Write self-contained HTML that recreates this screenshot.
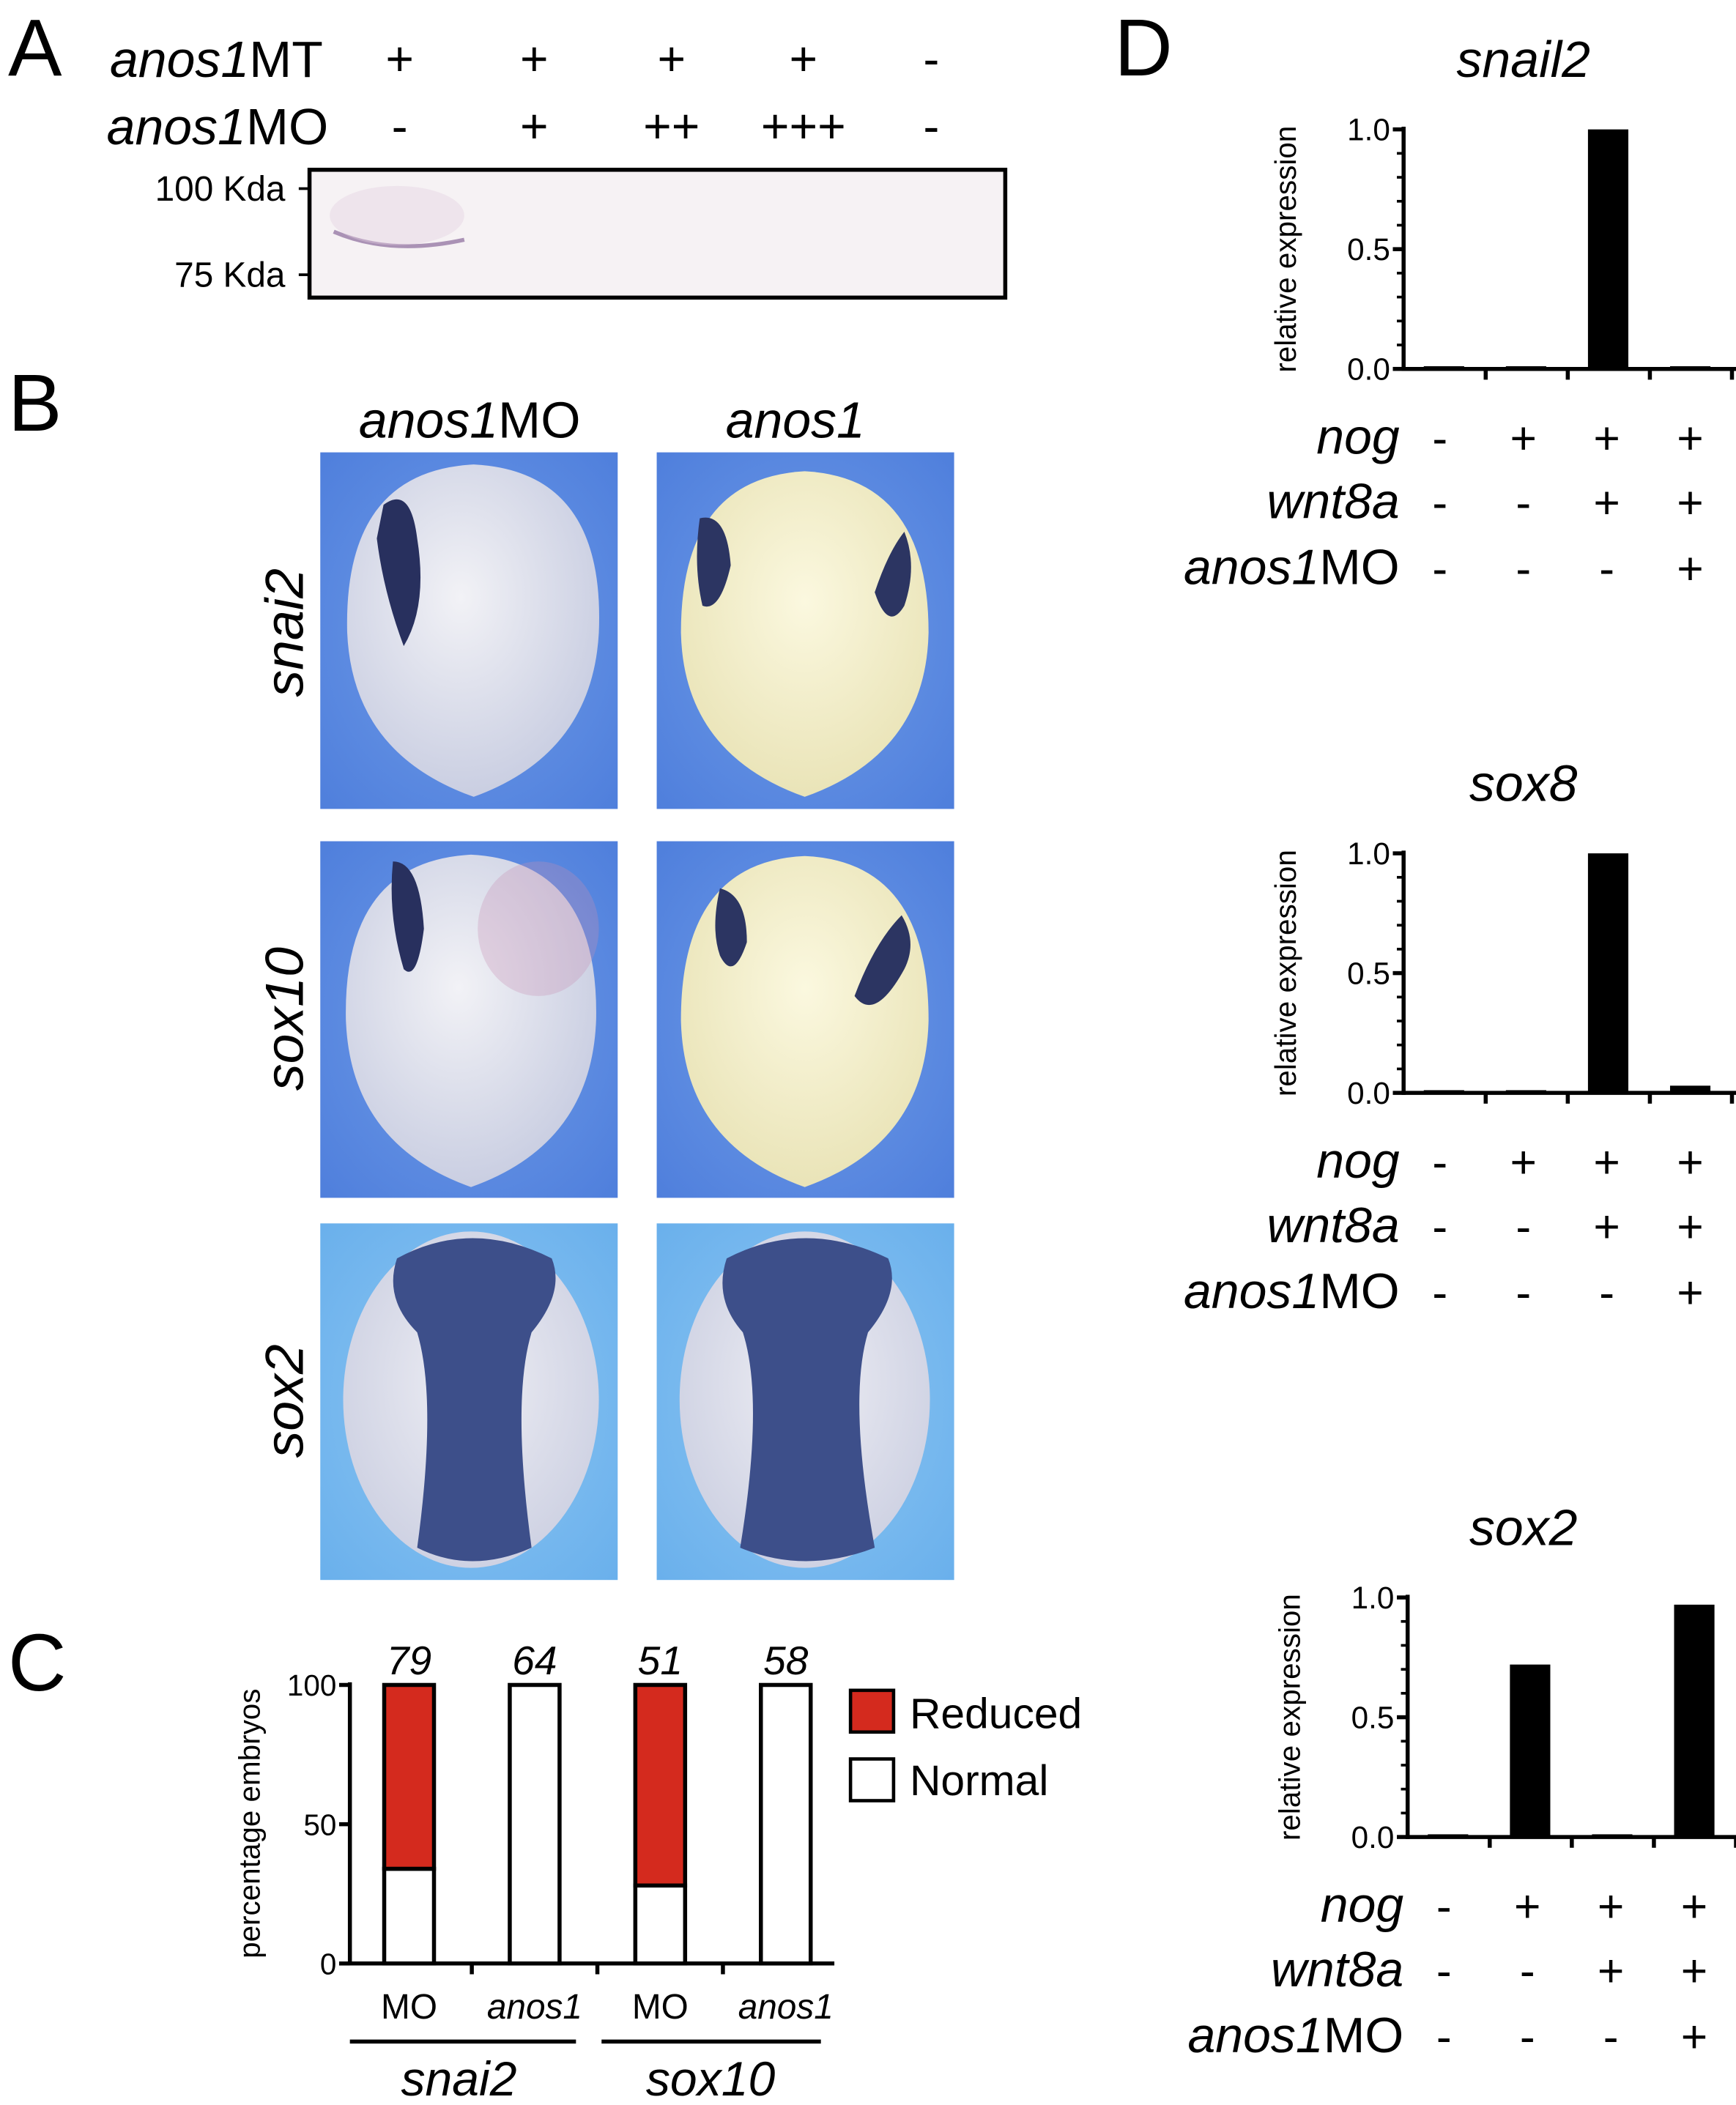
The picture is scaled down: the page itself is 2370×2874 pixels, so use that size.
<!DOCTYPE html>
<html><head><meta charset="utf-8">
<style>
html,body{margin:0;padding:0;background:#fff;}
svg{display:block;font-family:"Liberation Sans",sans-serif;}
</style></head>
<body>
<svg id="fig" width="2370" height="2874" viewBox="0 0 1290 1564" xmlns="http://www.w3.org/2000/svg">
<defs>
<radialGradient id="bgBlue" cx="50%" cy="50%" r="70%"><stop offset="0" stop-color="#6f9be8"/><stop offset="1" stop-color="#4f7fdc"/></radialGradient>
<radialGradient id="bgBlue2" cx="50%" cy="50%" r="70%"><stop offset="0" stop-color="#8cc6f2"/><stop offset="1" stop-color="#6ab0ec"/></radialGradient>
<radialGradient id="embW" cx="45%" cy="40%" r="65%"><stop offset="0" stop-color="#f2f2f6"/><stop offset="1" stop-color="#c6cbe0"/></radialGradient>
<radialGradient id="embY" cx="50%" cy="40%" r="65%"><stop offset="0" stop-color="#fbf8df"/><stop offset="1" stop-color="#e8e2b4"/></radialGradient>
<radialGradient id="embS" cx="50%" cy="45%" r="65%"><stop offset="0" stop-color="#eeeef4"/><stop offset="1" stop-color="#c9cde0"/></radialGradient>
</defs>

<!-- Panel A -->
<g>
<text x="6" y="56" font-size="60">A</text>
<text x="240" y="57" font-size="38" text-anchor="end"><tspan font-style="italic">anos1</tspan>MT</text>
<text x="244" y="107" font-size="38" text-anchor="end"><tspan font-style="italic">anos1</tspan>MO</text>
<g font-size="36" text-anchor="middle">
<text x="297" y="56">+</text><text x="397" y="56">+</text><text x="499" y="56">+</text><text x="597" y="56">+</text><text x="692" y="56">-</text>
<text x="297" y="106">-</text><text x="397" y="106">+</text><text x="499" y="106">++</text><text x="597" y="106">+++</text><text x="692" y="106">-</text>
</g>
<rect x="230" y="126" width="517" height="95" fill="#f6f2f4" stroke="#000" stroke-width="3"/>
<path d="M248 172 Q290 190 345 178" stroke="#8a6a9a" stroke-width="3" fill="none" opacity="0.7"/>
<ellipse cx="295" cy="160" rx="50" ry="22" fill="#e3cfe0" opacity="0.4"/>
<line x1="222" y1="140" x2="230" y2="140" stroke="#000" stroke-width="2"/>
<line x1="222" y1="204" x2="230" y2="204" stroke="#000" stroke-width="2"/>
<text x="212" y="149" font-size="26" text-anchor="end">100 Kda</text>
<text x="212" y="213" font-size="26" text-anchor="end">75 Kda</text>
</g>

<!-- Panel B -->
<g>
<text x="6" y="320" font-size="60">B</text>
<text x="349" y="325" font-size="38" text-anchor="middle"><tspan font-style="italic">anos1</tspan>MO</text>
<text x="591" y="325" font-size="38" text-anchor="middle" font-style="italic">anos1</text>
<text transform="translate(225,470) rotate(-90)" font-size="40" font-style="italic" text-anchor="middle">snai2</text>
<text transform="translate(225,757) rotate(-90)" font-size="40" font-style="italic" text-anchor="middle">sox10</text>
<text transform="translate(225,1041) rotate(-90)" font-size="40" font-style="italic" text-anchor="middle">sox2</text>

<g>
<rect x="238" y="336" width="221" height="265" fill="url(#bgBlue)"/>
<path d="M352 345 Q450 350 445 470 Q440 560 352 592 Q262 560 258 470 Q255 350 352 345Z" fill="url(#embW)"/>
<path d="M285 375 Q305 360 310 400 Q318 450 300 480 Q285 440 280 400Z" fill="#28305e"/>
</g>
<g>
<rect x="488" y="336" width="221" height="265" fill="url(#bgBlue)"/>
<path d="M598 350 Q690 355 690 470 Q688 560 598 592 Q508 560 506 470 Q506 355 598 350Z" fill="url(#embY)"/>
<path d="M520 385 Q540 380 543 420 Q535 455 522 450 Q515 420 520 385Z" fill="#2c3562"/>
<path d="M672 395 Q660 410 650 440 Q660 470 672 450 Q682 420 672 395Z" fill="#2c3562"/>
</g>
<g>
<rect x="238" y="625" width="221" height="265" fill="url(#bgBlue)"/>
<path d="M350 635 Q445 640 443 757 Q440 850 350 882 Q260 850 257 757 Q255 640 350 635Z" fill="url(#embW)"/>
<path d="M292 640 Q312 640 315 690 Q310 730 300 720 Q288 680 292 640Z" fill="#28305e"/>
<ellipse cx="400" cy="690" rx="45" ry="50" fill="#c890b4" opacity="0.3"/>
</g>
<g>
<rect x="488" y="625" width="221" height="265" fill="url(#bgBlue)"/>
<path d="M598 636 Q690 640 690 758 Q688 850 598 882 Q508 850 506 758 Q506 640 598 636Z" fill="url(#embY)"/>
<path d="M535 660 Q555 665 555 700 Q545 730 535 710 Q528 690 535 660Z" fill="#2c3562"/>
<path d="M670 680 Q650 700 635 740 Q650 760 672 720 Q682 700 670 680Z" fill="#2c3562"/>
</g>
<g>
<rect x="238" y="909" width="221" height="265" fill="url(#bgBlue2)"/>
<ellipse cx="350" cy="1040" rx="95" ry="125" fill="url(#embS)"/>
<path d="M295 935 Q350 905 410 935 Q420 960 395 990 Q380 1040 395 1150 Q350 1170 310 1150 Q325 1040 310 990 Q285 965 295 935Z" fill="#3d4f8a"/>
</g>
<g>
<rect x="488" y="909" width="221" height="265" fill="url(#bgBlue2)"/>
<ellipse cx="598" cy="1040" rx="93" ry="125" fill="url(#embS)"/>
<path d="M540 935 Q598 905 660 935 Q670 960 645 990 Q630 1040 650 1150 Q598 1170 550 1150 Q568 1040 552 990 Q530 965 540 935Z" fill="#3d4f8a"/>
</g>
</g>

<!-- Panel C -->
<g id="panelC">
<text x="6" y="1256" font-size="60">C</text>
<text transform="translate(193,1355) rotate(-90)" font-size="22" text-anchor="middle">percentage embryos</text>
<rect x="632" y="1256" width="32" height="31" fill="#d42a1e" stroke="#000" stroke-width="2.5"/>
<text x="676" y="1284" font-size="32">Reduced</text>
<rect x="632" y="1307" width="32" height="31" fill="#fff" stroke="#000" stroke-width="2.5"/>
<text x="676" y="1334" font-size="32">Normal</text>
<line x1="260" y1="1517" x2="428" y2="1517" stroke="#000" stroke-width="3"/>
<line x1="447" y1="1517" x2="610" y2="1517" stroke="#000" stroke-width="3"/>
<text x="341" y="1557" font-size="36" font-style="italic" text-anchor="middle">snai2</text>
<text x="528" y="1557" font-size="36" font-style="italic" text-anchor="middle">sox10</text>
</g>

<!-- Panel D -->
<g id="panelD">
<text x="828" y="56" font-size="60">D</text>
</g>
</svg>

<script>
const NS='http://www.w3.org/2000/svg';
// Panel C data
const cCategories=['MO','anos1','MO','anos1'];
const cNormal=[34,100,28,100];
const cReduced=[66,0,72,0];
const cCounts=['79','64','51','58'];
const cTicks=[0,50,100];

// Panel D data
const dTitles=['snail2','sox8','sox2'];
const dSnail2=[0.005,0.005,1.0,0.005];
const dSox8=[0.005,0.005,1.0,0.03];
const dSox2=[0.005,0.72,0.005,0.97];
const dTicks=[0.0,0.5,1.0];
const dNog=['-','+','+','+'];
const dWnt8a=['-','-','+','+'];
const dMO=['-','-','-','+'];

function mk(tag,attrs,parent,text){const e=document.createElementNS(NS,tag);for(const k in attrs)e.setAttribute(k,attrs[k]);if(text!==undefined)e.textContent=text;parent.appendChild(e);return e;}

// ---- Panel C ----
(function(){
const g=document.getElementById('panelC');
const x0=260,yBase=1459,yTop=1252,xEnd=620;
const y=v=>yBase-(v/100)*(yBase-yTop);
const xc=i=>304+i*93.3;
const bw=37;
for(let i=0;i<cCategories.length;i++){
  const n=mk('rect',{x:xc(i)-bw/2,y:y(cNormal[i]),width:bw,height:yBase-y(cNormal[i]),fill:'#fff',stroke:'#000','stroke-width':3},g);
  
  
  if(cReduced[i]>0){
    const r=mk('rect',{x:xc(i)-bw/2,y:y(cNormal[i]+cReduced[i]),width:bw,height:y(cNormal[i])-y(cNormal[i]+cReduced[i]),fill:'#d42a1e',stroke:'#000','stroke-width':3},g);
    
    
  }
  const t=mk('text',{x:xc(i),y:y(cNormal[i]+cReduced[i])-8,'font-size':30,'font-style':'italic','text-anchor':'middle'},g,cCounts[i]);
  
  
  const l=mk('text',{x:xc(i),y:1500,'font-size':26,'text-anchor':'middle','font-style':cCategories[i]==='anos1'?'italic':'normal'},g,cCategories[i]);
  
  
  if(i<cCategories.length-1) mk('line',{x1:xc(i)+46.6,y1:yBase,x2:xc(i)+46.6,y2:yBase+8,stroke:'#000','stroke-width':3},g);
}
mk('line',{x1:x0,y1:yTop-2,x2:x0,y2:yBase+1.5,stroke:'#000','stroke-width':3},g);
mk('line',{x1:x0,y1:yBase,x2:xEnd,y2:yBase,stroke:'#000','stroke-width':3},g);
for(const v of cTicks){
  mk('line',{x1:x0-8,y1:y(v),x2:x0,y2:y(v),stroke:'#000','stroke-width':3},g);
  const t=mk('text',{x:x0-10,y:y(v)+8,'font-size':22,'text-anchor':'end'},g,String(v));
  
  
}
})();

// ---- Panel D ----
(function(){
const g=document.getElementById('panelD');
const series=[dSnail2,dSox8,dSox2];
const offsets=[0,538,1091];
const xoff=[0,0,3];
for(let c=0;c<3;c++){
  const oy=offsets[c],ox=xoff[c];
  const x0=1043+ox,yBase=274+oy,yTop=96+oy,xEnd=1290;
  const y=v=>yBase-v*(yBase-yTop);
  const xc=i=>1073+ox+i*61;
  const cg=mk('g',{},g);
  
  
  const tt=mk('text',{x:1132,y:57+oy,'font-size':38,'font-style':'italic','text-anchor':'middle'},cg,dTitles[c]);
  
  
  const yt=mk('text',{transform:'translate('+(963+ox)+','+(185+oy)+') rotate(-90)','font-size':22,'text-anchor':'middle'},cg,'relative expression');
  
  
  const vals=series[c];
  for(let i=0;i<vals.length;i++){
    const h=Math.max(2,yBase-y(vals[i]));
    const b=mk('rect',{x:xc(i)-15,y:yBase-h,width:30,height:h,fill:'#000'},cg);
    
    
    mk('line',{x1:xc(i)+31,y1:yBase,x2:xc(i)+31,y2:yBase+8,stroke:'#000','stroke-width':3},cg);
  }
  mk('line',{x1:x0,y1:yTop-2,x2:x0,y2:yBase+1.5,stroke:'#000','stroke-width':3},cg);
  mk('line',{x1:x0,y1:yBase,x2:xEnd,y2:yBase,stroke:'#000','stroke-width':3},cg);
  for(let k=0;k<=10;k++){
    const v=k/10,major=(k%5===0);
    mk('line',{x1:x0-(major?8:5),y1:y(v),x2:x0,y2:y(v),stroke:'#000','stroke-width':major?3:2},cg);
  }
  for(const v of dTicks){
    const t=mk('text',{x:x0-10,y:y(v)+8,'font-size':23,'text-anchor':'end'},cg,v.toFixed(1));
    
    
  }
  const rows=[['nog',dNog,325],['wnt8a',dWnt8a,373],['anos1MO',dMO,422]];
  for(const [name,arr,ry] of rows){
    let lab;
    if(name==='anos1MO'){
      lab=mk('text',{x:1040+ox,y:ry+oy+12,'font-size':37,'text-anchor':'end'},cg);
      mk('tspan',{'font-style':'italic'},lab,'anos1');
      mk('tspan',{},lab,'MO');
    } else {
      lab=mk('text',{x:1040+ox,y:ry+oy+12,'font-size':37,'font-style':'italic','text-anchor':'end'},cg,name);
    }
    
    
    for(let i=0;i<arr.length;i++){
      const s=mk('text',{x:1070+ox+i*62,y:ry+oy+12,'font-size':34,'text-anchor':'middle'},cg,arr[i]);
      
      
    }
  }
}
})();
</script>
</body></html>
